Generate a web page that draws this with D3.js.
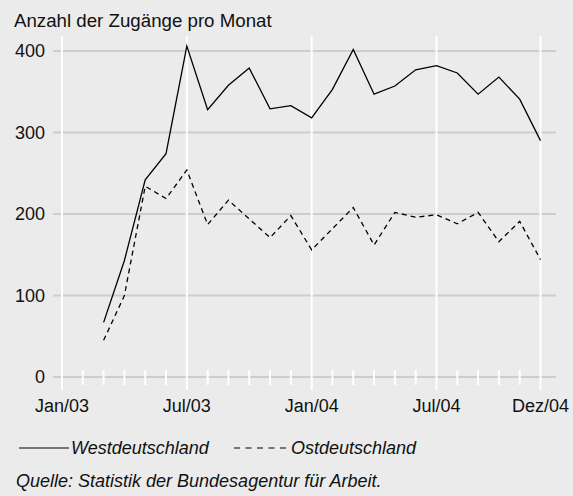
<!DOCTYPE html>
<html><head><meta charset="utf-8">
<script src="https://cdn.jsdelivr.net/npm/d3@7"></script>
<style>
html,body{margin:0;padding:0;background:#ebebeb;}
svg text{font-family:"Liberation Sans",Arial,Helvetica,sans-serif;fill:#111;}
</style></head>
<body>
<script>
const months = ["Mar/03","Apr/03","May/03","Jun/03","Jul/03","Aug/03","Sep/03","Oct/03","Nov/03","Dec/03",
  "Jan/04","Feb/04","Mar/04","Apr/04","May/04","Jun/04","Jul/04","Aug/04","Sep/04","Oct/04","Nov/04","Dec/04"];
const monthIndex = [2,3,4,5,6,7,8,9,10,11,12,13,14,15,16,17,18,19,20,21,22,23];
const west = [67,143,242,274,406,328,358,379,329,333,318,353,402,347,357,377,382,373,347,368,341,290];
const ost  = [45,100,234,219,254,187,217,194,171,198,156,182,208,162,202,196,199,188,202,166,191,144];
const xTickPos = [0,6,12,18,23];
const xTickLabels = ["Jan/03","Jul/03","Jan/04","Jul/04","Dez/04"];
const yTicks = [0,100,200,300,400];

const W=573,H=496;
const svg=d3.select("body").append("svg").attr("width",W).attr("height",H);
svg.append("rect").attr("width",W).attr("height",H).attr("fill","#ebebeb");

const x=d3.scaleLinear().domain([0,23]).range([62,540.5]);
const y=d3.scaleLinear().domain([0,400]).range([377,51]);

// horizontal grid
svg.append("g").selectAll("line").data(yTicks).join("line")
  .attr("x1",53).attr("x2",556).attr("y1",d=>y(d)).attr("y2",d=>y(d))
  .attr("stroke","#cdcdcd").attr("stroke-width",2);

// minor month ticks
svg.append("g").selectAll("line").data(d3.range(0,24).filter(i=>!xTickPos.includes(i))).join("line")
  .attr("x1",d=>x(d)).attr("x2",d=>x(d)).attr("y1",370).attr("y2",385)
  .attr("stroke","#ffffff").attr("stroke-width",2);

// major vertical lines
svg.append("g").selectAll("line").data(xTickPos).join("line")
  .attr("x1",d=>x(d)).attr("x2",d=>x(d)).attr("y1",36).attr("y2",390)
  .attr("stroke","#ffffff").attr("stroke-width",2);

// y labels
svg.append("g").selectAll("text").data(yTicks).join("text")
  .attr("x",45).attr("y",d=>y(d)+6).attr("text-anchor","end")
  .attr("font-size",18).text(d=>d);

// x labels
svg.append("g").selectAll("text").data(xTickPos).join("text")
  .attr("x",d=>x(d)).attr("y",412).attr("text-anchor","middle")
  .attr("font-size",18).text((d,i)=>xTickLabels[i]);

// title
svg.append("text").attr("x",14).attr("y",27).attr("font-size",18.7).text("Anzahl der Zugänge pro Monat");

const line=d3.line().x((d,i)=>x(monthIndex[i])).y(d=>y(d));
svg.append("path").datum(west).attr("d",line).attr("fill","none").attr("stroke","#000").attr("stroke-width",1.3);
svg.append("path").datum(ost).attr("d",line).attr("fill","none").attr("stroke","#000").attr("stroke-width",1.3).attr("stroke-dasharray","5,4");

// legend
svg.append("line").attr("x1",19).attr("x2",69).attr("y1",448).attr("y2",448).attr("stroke","#000").attr("stroke-width",1.2);
svg.append("text").attr("x",71).attr("y",454).attr("font-size",18).attr("font-style","italic").text("Westdeutschland");
svg.append("line").attr("x1",234).attr("x2",286).attr("y1",448).attr("y2",448).attr("stroke","#000").attr("stroke-width",1.2).attr("stroke-dasharray","6,5.5");
svg.append("text").attr("x",291).attr("y",454).attr("font-size",18).attr("font-style","italic").text("Ostdeutschland");

svg.append("text").attr("x",16).attr("y",487).attr("font-size",18).attr("font-style","italic").text("Quelle: Statistik der Bundesagentur für Arbeit.");
</script>
</body></html>
